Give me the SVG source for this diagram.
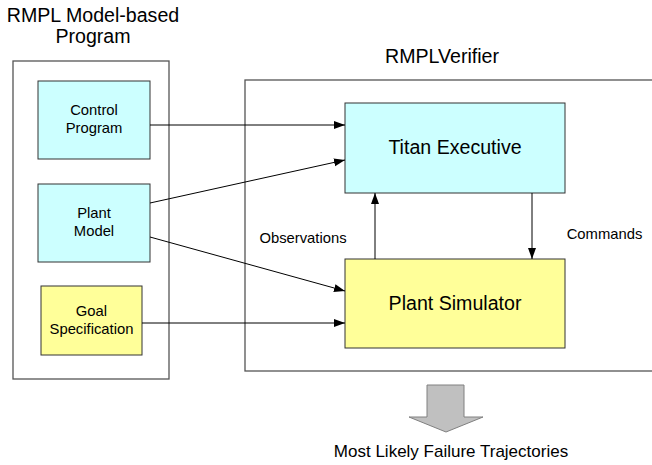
<svg xmlns="http://www.w3.org/2000/svg" width="652" height="465" viewBox="0 0 652 465">
<style>
text { font-family: "Liberation Sans", Arial, sans-serif; fill: #000; text-anchor: middle; }
.outer { fill: #fff; stroke: #555; stroke-width: 1.3; }
.cyan { fill: #CCFFFF; stroke: #333; stroke-width: 1; }
.yellow { fill: #FFFF99; stroke: #333; stroke-width: 1; }
.small { font-size: 14.8px; }
.big { font-size: 19.6px; }
.conn { stroke: #000; stroke-width: 1; fill: none; marker-end: url(#ah); }
</style>
<defs>
<marker id="ah" markerUnits="userSpaceOnUse" markerWidth="12" markerHeight="10" refX="11" refY="4" orient="auto">
<path d="M0,0 L11,4 L0,8 Z" fill="#000"/>
</marker>
</defs>
<rect width="652" height="465" fill="#fff"/>
<g id="program">
<rect class="outer" x="13" y="61" width="156" height="318"/>
<text class="big" x="93" y="22">RMPL Model-based</text>
<text class="big" x="93" y="43">Program</text>
</g>
<g id="verifier">
<rect class="outer" x="245" y="80" width="410" height="291"/>
<text class="big" x="442" y="63">RMPLVerifier</text>
</g>
<g id="control-program">
<rect class="cyan" x="38" y="81" width="112" height="78"/>
<text class="small" x="94" y="115">Control</text>
<text class="small" x="94" y="133">Program</text>
</g>
<g id="plant-model">
<rect class="cyan" x="38" y="184" width="112" height="78"/>
<text class="small" x="94" y="218">Plant</text>
<text class="small" x="94" y="236">Model</text>
</g>
<g id="goal-specification">
<rect class="yellow" x="41" y="286" width="101" height="69"/>
<text class="small" x="91.5" y="316">Goal</text>
<text class="small" x="91.5" y="334">Specification</text>
</g>
<g id="titan-executive">
<rect class="cyan" x="345" y="103" width="220" height="90"/>
<text class="big" x="455" y="154">Titan Executive</text>
</g>
<g id="plant-simulator">
<rect class="yellow" x="345" y="259" width="220" height="89"/>
<text class="big" x="455" y="310">Plant Simulator</text>
</g>
<g id="connectors">
<line class="conn" x1="150" y1="125" x2="345" y2="125"/>
<line class="conn" x1="150" y1="203" x2="345" y2="160"/>
<line class="conn" x1="150" y1="237" x2="345" y2="291"/>
<line class="conn" x1="142" y1="323" x2="345" y2="323"/>
<line class="conn" x1="375" y1="259" x2="375" y2="193"/>
<line class="conn" x1="532" y1="193" x2="532" y2="259"/>
<text class="small" x="303" y="243">Observations</text>
<text class="small" x="604.5" y="239">Commands</text>
</g>
<g id="output">
<path d="M427,385 L464,385 L464,417 L483,417 L446,432 L409,417 L427,417 Z" fill="#C0C0C0" stroke="#808080" stroke-width="1"/>
<text x="451" y="457" style="font-size:17px">Most Likely Failure Trajectories</text>
</g>
</svg>
